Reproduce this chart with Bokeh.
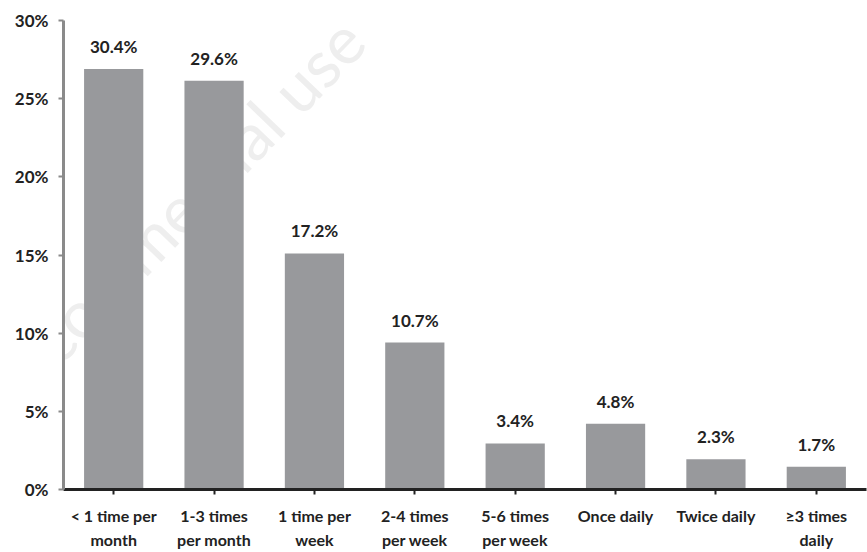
from bokeh.plotting import figure
from bokeh.models import ColumnDataSource, FixedTicker, PrintfTickFormatter, Label
from bokeh.core.properties import value
from bokeh.embed import file_html
from bokeh.resources import INLINE

categories = ["< 1 time per\nmonth", "1-3 times\nper month", "1 time per\nweek", "2-4 times\nper week",
              "5-6 times\nper week", "Once daily", "Twice daily", "≥3 times\ndaily"]
bar_heights = [26.9, 26.15, 15.1, 9.4, 2.95, 4.2, 1.93, 1.45]
bar_labels = ["30.4%", "29.6%", "17.2%", "10.7%", "3.4%", "4.8%", "2.3%", "1.7%"]
y_ticks = [0, 5, 10, 15, 20, 25, 30]

FONT = "Lato"

src = ColumnDataSource(dict(cat=categories, h=bar_heights, lab=bar_labels))

p = figure(x_range=categories, y_range=(0, 30), width=867, height=552,
           output_backend="svg", toolbar_location=None,
           min_border_left=63, min_border_right=1, min_border_top=20, min_border_bottom=60)

p.add_layout(Label(x=6, y=112, x_units="screen", y_units="screen", text="commercial use",
                   angle=46, angle_units="deg", text_font=FONT, text_font_size="66px",
                   text_color="#eeeeee", level="underlay"))

p.vbar(x="cat", top="h", width=0.59, source=src, fill_color="#98999c", line_color=None)
p.text(x="cat", y="h", text="lab", source=src, text_align="center", text_baseline="bottom",
       y_offset=-12, text_font=value(FONT), text_font_style="bold", text_font_size="17px",
       text_color="#222222")

p.grid.visible = False
p.outline_line_color = None
p.background_fill_color = "white"

p.yaxis.ticker = FixedTicker(ticks=y_ticks)
p.yaxis.formatter = PrintfTickFormatter(format="%d%%")
p.yaxis.axis_line_color = "#8a8a8a"
p.yaxis.axis_line_width = 3
p.yaxis.major_tick_line_color = "#8a8a8a"
p.yaxis.major_tick_line_width = 2
p.yaxis.major_tick_out = 5
p.yaxis.major_tick_in = 0
p.yaxis.minor_tick_line_color = None
p.yaxis.major_label_standoff = 10
p.yaxis.major_label_text_font = FONT
p.yaxis.major_label_text_font_style = "bold"
p.yaxis.major_label_text_font_size = "17px"
p.yaxis.major_label_text_color = "#222222"

p.xaxis.axis_line_color = "#222222"
p.xaxis.axis_line_width = 3
p.xaxis.major_tick_line_color = "#222222"
p.xaxis.major_tick_line_width = 2
p.xaxis.major_tick_out = 5
p.xaxis.major_tick_in = 0
p.xaxis.major_label_standoff = 11
p.xaxis.major_label_text_font = FONT
p.xaxis.major_label_text_font_style = "bold"
p.xaxis.major_label_text_font_size = "16px"
p.xaxis.major_label_text_color = "#222222"
p.xaxis.major_label_text_line_height = 1.3
p.x_range.range_padding = 0.0

open("out.html", "w").write(file_html(p, INLINE))
